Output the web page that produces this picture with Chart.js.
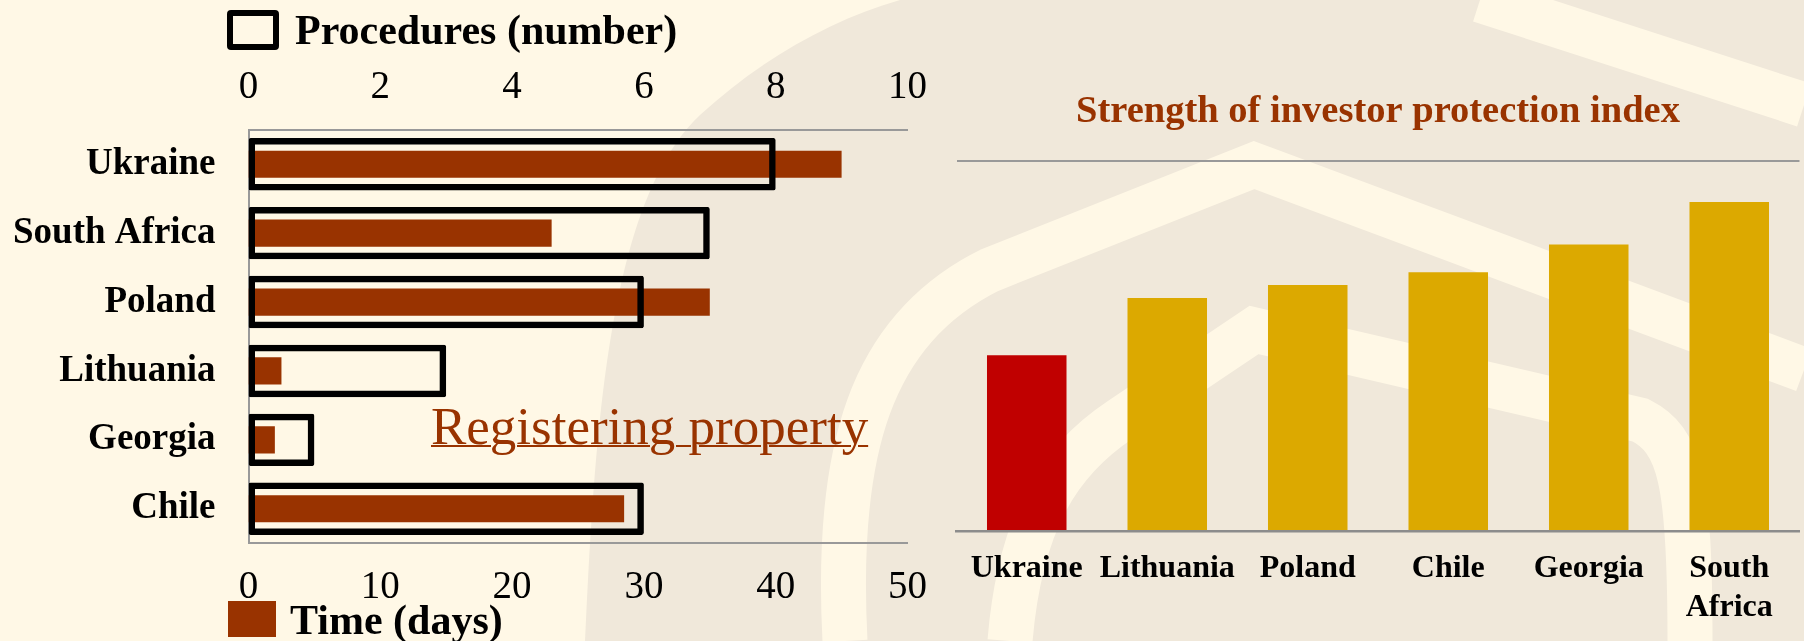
<!DOCTYPE html>
<html lang="en">
<head>
<meta charset="UTF-8">
<title>Registering property and investor protection</title>
<script src="https://cdn.jsdelivr.net/npm/chart.js@4.4.0/dist/chart.umd.min.js"></script>
<style>
  body { margin: 0; background: #FFF8E6; }
  #wrap { position: relative; width: 1804px; height: 641px; overflow: hidden;
          font-family: "Liberation Serif", "Times New Roman", serif; }
  #bg { position: absolute; left: 0; top: 0; }
  canvas { position: absolute; top: 0; }
  #leftChart { left: 0; }
  #rightChart { left: 940px; }
  .legBox { position: absolute; box-sizing: border-box; }
  .legText { position: absolute; font-weight: bold; font-size: 42px; line-height: 42px; color: #000; white-space: nowrap; }
  #regTitle { position: absolute; left: 431px; top: 400px; font-size: 53px; line-height: 53px;
              color: #993300; text-decoration: underline; text-decoration-thickness: 2px; white-space: nowrap; }
</style>
</head>
<body>
<div id="wrap">
  <svg id="bg" width="1804" height="641">
    <rect x="0" y="0" width="1804" height="641" fill="#FFF8E6"/>
    <path d="M 585 641 C 595 420, 610 200, 700 115 C 760 60, 830 20, 900 0 L 1804 0 L 1804 641 Z" fill="#F0E8DA"/>
    <g fill="none" stroke="#FFF8E6" stroke-width="45">
      <path d="M 845 641 C 835 450, 870 330, 990 270 L 1254 165 L 1804 370"/>
      <path d="M 1010 641 C 1020 520, 1060 460, 1120 420 L 1254 330 L 1640 420 C 1680 440, 1690 480, 1690 641"/>
      <path d="M 1480 0 L 1804 105"/>
    </g>
  </svg>
  <canvas id="leftChart" width="948" height="641"></canvas>
  <canvas id="rightChart" width="864" height="641"></canvas>

  <div class="legBox" style="left:227px; top:10px; width:52px; height:40px; border:6px solid #000; border-radius:4px;"></div>
  <div class="legText" style="left:295px; top:9px;">Procedures (number)</div>
  <div class="legBox" style="left:228px; top:601px; width:48px; height:36px; background:#993300;"></div>
  <div class="legText" style="left:290px; top:599px;">Time (days)</div>
  <div id="regTitle">Registering property</div>
</div>
<script>
  // registering property
  const propCountries = ["Ukraine", "South Africa", "Poland", "Lithuania", "Georgia", "Chile"];
  const procedures = [8, 7, 6, 3, 1, 6];
  const timeDays = [45, 23, 35, 2.5, 2, 28.5];
  const procMax = 10, procStep = 2;
  const timeMax = 50, timeStep = 10;

  // strength of investor protection index
  const investorCountries = ["Ukraine", "Lithuania", "Poland", "Chile", "Georgia", ["South", "Africa"]];
  const investorIndex = [4.75, 6.3, 6.65, 7.0, 7.75, 8.9];
  const indexMax = 10;

  const serif = "'Liberation Serif', 'Times New Roman', serif";
  const axisGray = "#999999";

  new Chart(document.getElementById("leftChart"), {
    type: "bar",
    data: {
      labels: propCountries,
      datasets: [
        {
          label: "Procedures (number)",
          data: procedures,
          xAxisID: "xTop",
          backgroundColor: "rgba(0,0,0,0)",
          borderColor: "#000000",
          borderWidth: 6.5,
          borderSkipped: false,
          borderRadius: 2,
          barPercentage: 0.76,
          categoryPercentage: 1,
          grouped: false
        },
        {
          label: "Time (days)",
          data: timeDays,
          xAxisID: "xBottom",
          backgroundColor: "#993300",
          borderWidth: 0,
          barPercentage: 0.395,
          categoryPercentage: 1,
          grouped: false
        }
      ]
    },
    options: {
      indexAxis: "y",
      responsive: false,
      animation: false,
      layout: { padding: { top: 45, left: 0, right: 15, bottom: 9 } },
      plugins: { legend: { display: false }, tooltip: { enabled: false } },
      scales: {
        y: {
          grid: { display: false, drawTicks: false },
          border: { color: axisGray, width: 2 },
          ticks: { color: "#000", padding: 33, font: { family: serif, size: 37, weight: "bold" } },
          afterFit: (scale) => { scale.width = 248.5; }
        },
        xTop: {
          position: "top",
          min: 0,
          max: procMax,
          grid: { display: false, drawTicks: false },
          border: { color: axisGray, width: 2 },
          ticks: { stepSize: procStep, color: "#000", padding: 19, maxRotation: 0, font: { family: serif, size: 39 } }
        },
        xBottom: {
          position: "bottom",
          min: 0,
          max: timeMax,
          grid: { display: false, drawTicks: false },
          border: { color: axisGray, width: 2 },
          ticks: { stepSize: timeStep, color: "#000", padding: 21, maxRotation: 0, font: { family: serif, size: 39 } }
        }
      }
    }
  });

  new Chart(document.getElementById("rightChart"), {
    type: "bar",
    data: {
      labels: investorCountries,
      datasets: [{
        label: "Strength of investor protection index",
        data: investorIndex,
        backgroundColor: investorIndex.map((v, i) => i === 0 ? "#C00000" : "#DCA900"),
        borderWidth: 0,
        barPercentage: 0.566,
        categoryPercentage: 1
      }]
    },
    options: {
      responsive: false,
      animation: false,
      layout: { padding: { top: 0, left: 16.5, right: 4.5, bottom: 0 } },
      plugins: {
        legend: { display: false },
        tooltip: { enabled: false },
        title: {
          display: true,
          text: "Strength of investor protection index",
          color: "#993300",
          font: { family: serif, size: 38.5, weight: "bold" },
          padding: { top: 88.5, bottom: 26.5 }
        }
      },
      scales: {
        x: {
          grid: { display: false, drawTicks: false },
          border: { color: "#8c8c8c", width: 2.5 },
          ticks: { color: "#000", padding: 19, maxRotation: 0, autoSkip: false, font: { family: serif, size: 32, weight: "bold" } },
          afterFit: (scale) => { scale.height = 110; }
        },
        y: {
          min: 0,
          max: indexMax,
          grid: { color: axisGray, lineWidth: 2, drawTicks: false },
          border: { display: false },
          ticks: { display: false, stepSize: indexMax }
        }
      }
    }
  });
</script>
</body>
</html>
